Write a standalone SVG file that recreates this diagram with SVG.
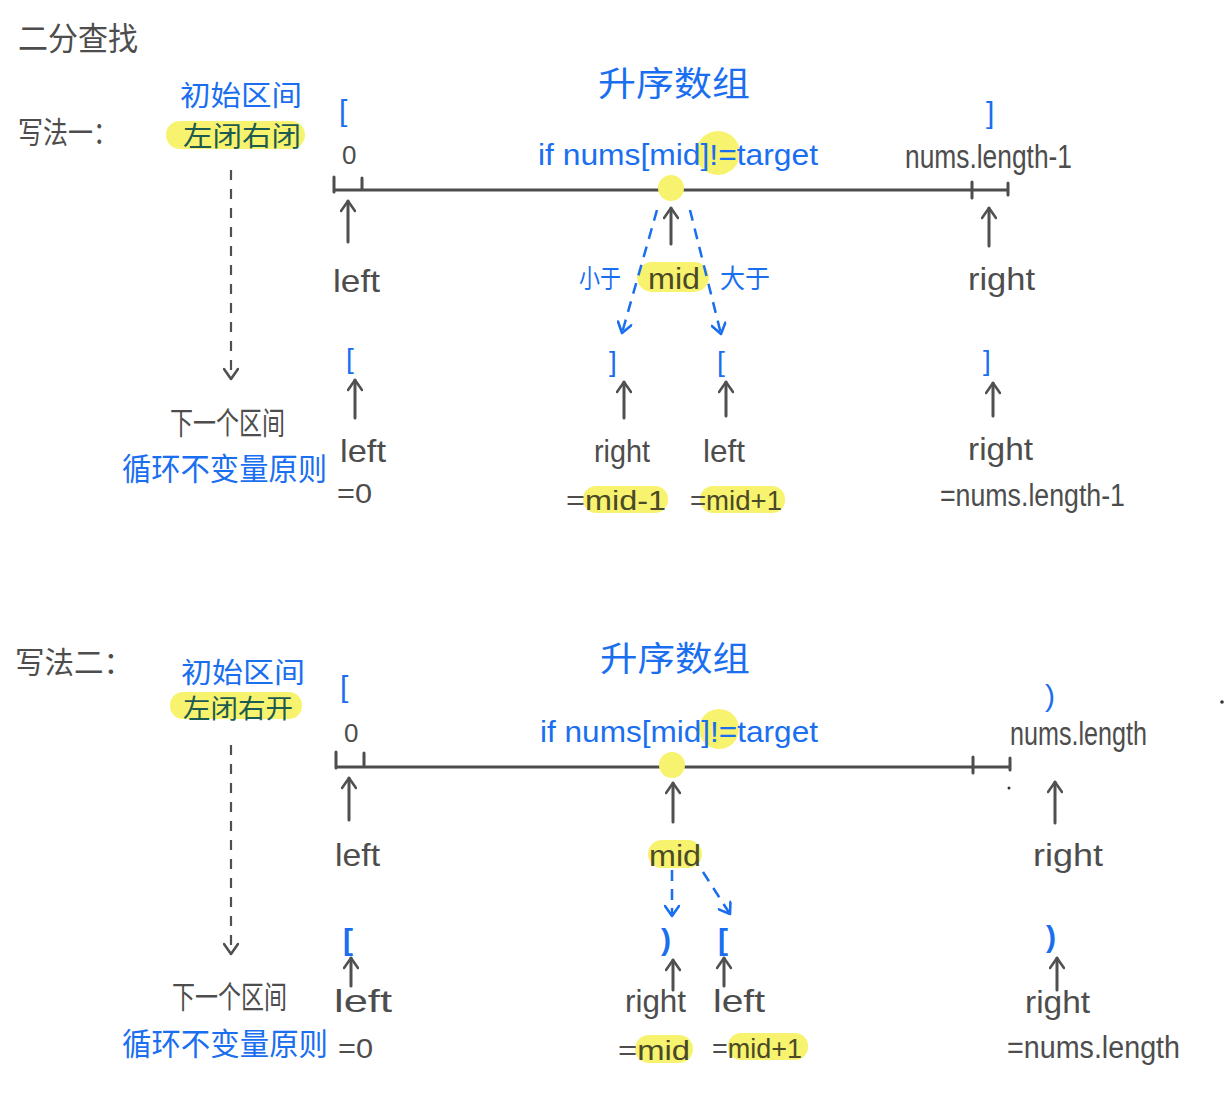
<svg xmlns="http://www.w3.org/2000/svg" width="1232" height="1112" viewBox="0 0 1232 1112">
  <style>
    .ink { font-family: "Liberation Sans", "Noto Sans CJK SC", sans-serif; fill: #4d4d4d; }
    .cjk { font-family: "Noto Sans CJK SC", "Liberation Sans", sans-serif; fill: #4d4d4d; }
    .blue { fill: #1a6ef0; }
    .teal { fill: #1d5a50; }
    .olive { fill: #4a4a28; }
    .hl { fill: #f8f36e; }
    .axis { stroke: #4d4d4d; stroke-width: 3; fill: none; stroke-linecap: round; }
    .up { stroke: #505050; stroke-width: 3; fill: none; stroke-linecap: round; marker-end: url(#ah); }
    .dash { stroke: #505050; stroke-width: 2.2; fill: none; stroke-dasharray: 10 9; marker-end: url(#ah); }
    .bdash { stroke: #1a6ef0; stroke-width: 2.5; fill: none; stroke-dasharray: 11 8; marker-end: url(#bh); }
  </style>
  <defs>
    <marker id="ah" viewBox="0 0 14 16" refX="12" refY="8" markerWidth="14" markerHeight="16" markerUnits="userSpaceOnUse" orient="auto">
      <path d="M2,1 L12,8 L2,15" fill="none" stroke="#505050" stroke-width="2.6" stroke-linecap="round" stroke-linejoin="round"/>
    </marker>
    <marker id="bh" viewBox="0 0 14 16" refX="12" refY="8" markerWidth="14" markerHeight="16" markerUnits="userSpaceOnUse" orient="auto">
      <path d="M2,1 L12,8 L2,15" fill="none" stroke="#1a6ef0" stroke-width="2.6" stroke-linecap="round" stroke-linejoin="round"/>
    </marker>
  </defs>
  <rect width="1232" height="1112" fill="#ffffff"/>

  <!-- heading -->
  <g id="title">
    <text class="cjk" x="18" y="50" font-size="32" textLength="120" lengthAdjust="spacingAndGlyphs">二分查找</text>
  </g>

  <!-- ===== method one: closed interval [left, right] ===== -->
  <g id="m1-label">
    <text class="cjk" x="18" y="143" font-size="30" textLength="100" lengthAdjust="spacingAndGlyphs">写法一：</text>
  </g>
  <g id="m1-interval">
    <text class="cjk blue" x="180" y="106" font-size="28" textLength="122" lengthAdjust="spacingAndGlyphs">初始区间</text>
    <rect class="hl" x="166" y="121" width="139" height="28" rx="14"/>
    <text class="cjk teal" x="183" y="146" font-size="27" textLength="118" lengthAdjust="spacingAndGlyphs">左闭右闭</text>
  </g>
  <g id="m1-array">
    <text class="cjk blue" x="598" y="96" font-size="34" textLength="152" lengthAdjust="spacingAndGlyphs">升序数组</text>
    <circle class="hl" cx="718" cy="153" r="22"/>
    <text class="ink blue" x="538" y="165" font-size="30" textLength="280" lengthAdjust="spacingAndGlyphs">if nums[mid]!=target</text>
  </g>
  <g id="m1-axis">
    <path class="axis" d="M334,190 H1008 M334,177 V192 M362,178 V190 M972,182 V198 M1008,183 V195"/>
    <circle class="hl" cx="671" cy="188" r="13"/>
  </g>
  <g id="m1-start">
    <text class="ink blue" x="339" y="121" font-size="30">[</text>
    <text class="ink" x="342" y="164" font-size="26">0</text>
    <text class="ink" x="333" y="292" font-size="32" textLength="47" lengthAdjust="spacingAndGlyphs">left</text>
  </g>
  <g id="m1-end">
    <text class="ink blue" x="986" y="123" font-size="30">]</text>
    <text class="ink" x="905" y="168" font-size="33" textLength="167" lengthAdjust="spacingAndGlyphs">nums.length-1</text>
    <text class="ink" x="968" y="290" font-size="32" textLength="67" lengthAdjust="spacingAndGlyphs">right</text>
  </g>
  <g id="m1-mid">
    <text class="cjk blue" x="579" y="288" font-size="26" textLength="42" lengthAdjust="spacingAndGlyphs">小于</text>
    <rect class="hl" x="637" y="262" width="72" height="30" rx="15"/>
    <text class="ink olive" x="648" y="289" font-size="30" textLength="52" lengthAdjust="spacingAndGlyphs">mid</text>
    <text class="cjk blue" x="720" y="288" font-size="26" textLength="50" lengthAdjust="spacingAndGlyphs">大于</text>
  </g>
  <g id="m1-next-label">
    <text class="cjk" x="170" y="434" font-size="31" textLength="115" lengthAdjust="spacingAndGlyphs">下一个区间</text>
    <text class="cjk blue" x="122" y="480" font-size="31" textLength="205" lengthAdjust="spacingAndGlyphs">循环不变量原则</text>
  </g>
  <g id="m1-next-left">
    <text class="ink blue" x="346" y="368" font-size="28">[</text>
    <text class="ink" x="340" y="462" font-size="32" textLength="46" lengthAdjust="spacingAndGlyphs">left</text>
    <text class="ink" x="337" y="503" font-size="28" textLength="35" lengthAdjust="spacingAndGlyphs">=0</text>
  </g>
  <g id="m1-next-right-small">
    <text class="ink blue" x="609" y="371" font-size="28">]</text>
    <text class="ink" x="594" y="462" font-size="32" textLength="56" lengthAdjust="spacingAndGlyphs">right</text>
    <rect class="hl" x="583" y="486" width="85" height="27" rx="13"/>
    <text class="ink" x="566" y="510" font-size="28" textLength="100" lengthAdjust="spacingAndGlyphs">=<tspan class="olive">mid-1</tspan></text>
  </g>
  <g id="m1-next-left-big">
    <text class="ink blue" x="717" y="371" font-size="28">[</text>
    <text class="ink" x="703" y="462" font-size="32" textLength="42" lengthAdjust="spacingAndGlyphs">left</text>
    <rect class="hl" x="700" y="486" width="85" height="27" rx="13"/>
    <text class="ink" x="690" y="510" font-size="28" textLength="92" lengthAdjust="spacingAndGlyphs">=<tspan class="olive">mid+1</tspan></text>
  </g>
  <g id="m1-next-right">
    <text class="ink blue" x="983" y="370" font-size="28">]</text>
    <text class="ink" x="968" y="460" font-size="32" textLength="65" lengthAdjust="spacingAndGlyphs">right</text>
    <text class="ink" x="940" y="506" font-size="31" textLength="185" lengthAdjust="spacingAndGlyphs">=nums.length-1</text>
  </g>

  <!-- ===== method two: half-open interval [left, right) ===== -->
  <g id="m2-label">
    <text class="cjk" x="15" y="673" font-size="30" textLength="118" lengthAdjust="spacingAndGlyphs">写法二：</text>
  </g>
  <g id="m2-interval">
    <text class="cjk blue" x="181" y="683" font-size="28" textLength="124" lengthAdjust="spacingAndGlyphs">初始区间</text>
    <rect class="hl" x="170" y="692" width="132" height="27" rx="13"/>
    <text class="cjk teal" x="183" y="718" font-size="26" textLength="110" lengthAdjust="spacingAndGlyphs">左闭右开</text>
  </g>
  <g id="m2-array">
    <text class="cjk blue" x="600" y="671" font-size="34" textLength="150" lengthAdjust="spacingAndGlyphs">升序数组</text>
    <circle class="hl" cx="719" cy="729" r="20"/>
    <text class="ink blue" x="540" y="742" font-size="30" textLength="278" lengthAdjust="spacingAndGlyphs">if nums[mid]!=target</text>
  </g>
  <g id="m2-axis">
    <path class="axis" d="M336,767 H1010 M336,752 V768 M364,753 V765 M973,757 V773 M1010,758 V770"/>
    <circle class="hl" cx="672" cy="765" r="13"/>
    <circle cx="1009" cy="788" r="1.5" fill="#333"/>
    <circle cx="1222" cy="702" r="1.8" fill="#333"/>
  </g>
  <g id="m2-start">
    <text class="ink blue" x="340" y="697" font-size="30">[</text>
    <text class="ink" x="344" y="742" font-size="26">0</text>
    <text class="ink" x="335" y="866" font-size="32" textLength="45" lengthAdjust="spacingAndGlyphs">left</text>
  </g>
  <g id="m2-end">
    <text class="ink blue" x="1045" y="706" font-size="30">)</text>
    <text class="ink" x="1010" y="745" font-size="33" textLength="137" lengthAdjust="spacingAndGlyphs">nums.length</text>
    <text class="ink" x="1033" y="866" font-size="32" textLength="70" lengthAdjust="spacingAndGlyphs">right</text>
  </g>
  <g id="m2-mid">
    <rect class="hl" x="648" y="840" width="54" height="28" rx="14"/>
    <text class="ink olive" x="649" y="866" font-size="30" textLength="52" lengthAdjust="spacingAndGlyphs">mid</text>
  </g>
  <g id="m2-next-label">
    <text class="cjk" x="172" y="1008" font-size="31" textLength="115" lengthAdjust="spacingAndGlyphs">下一个区间</text>
    <text class="cjk blue" x="122" y="1055" font-size="31" textLength="206" lengthAdjust="spacingAndGlyphs">循环不变量原则</text>
  </g>
  <g id="m2-next-left">
    <text class="ink blue" x="343" y="950" font-size="30" font-weight="bold">[</text>
    <text class="ink" x="334" y="1012" font-size="32" textLength="58" lengthAdjust="spacingAndGlyphs">left</text>
    <text class="ink" x="338" y="1058" font-size="28" textLength="35" lengthAdjust="spacingAndGlyphs">=0</text>
  </g>
  <g id="m2-next-right-small">
    <text class="ink blue" x="661" y="950" font-size="30" font-weight="bold">)</text>
    <text class="ink" x="625" y="1012" font-size="32" textLength="61" lengthAdjust="spacingAndGlyphs">right</text>
    <rect class="hl" x="635" y="1035" width="58" height="28" rx="14"/>
    <text class="ink" x="618" y="1060" font-size="28" textLength="72" lengthAdjust="spacingAndGlyphs">=<tspan class="olive">mid</tspan></text>
  </g>
  <g id="m2-next-left-big">
    <text class="ink blue" x="718" y="950" font-size="30" font-weight="bold">[</text>
    <text class="ink" x="713" y="1012" font-size="32" textLength="52" lengthAdjust="spacingAndGlyphs">left</text>
    <rect class="hl" x="728" y="1033" width="80" height="27" rx="13"/>
    <text class="ink" x="712" y="1058" font-size="28" textLength="90" lengthAdjust="spacingAndGlyphs">=<tspan class="olive">mid+1</tspan></text>
  </g>
  <g id="m2-next-right">
    <text class="ink blue" x="1046" y="947" font-size="30" font-weight="bold">)</text>
    <text class="ink" x="1025" y="1013" font-size="32" textLength="65" lengthAdjust="spacingAndGlyphs">right</text>
    <text class="ink" x="1007" y="1058" font-size="31" textLength="173" lengthAdjust="spacingAndGlyphs">=nums.length</text>
  </g>

  <!-- connectors -->
  <g id="connectors">
    <!-- method one -->
    <path class="up" d="M348,242 V201"/>
    <path class="up" d="M671,244 V208"/>
    <path class="up" d="M989,246 V208"/>
    <path class="dash" d="M231,170 V379"/>
    <path class="bdash" d="M657,210 L622,333"/>
    <path class="bdash" d="M690,210 L721,334"/>
    <path class="up" d="M355,418 V380"/>
    <path class="up" d="M624,418 V382"/>
    <path class="up" d="M726,416 V382"/>
    <path class="up" d="M993,416 V383"/>
    <!-- method two -->
    <path class="up" d="M349,820 V778"/>
    <path class="up" d="M673,822 V783"/>
    <path class="up" d="M1055,823 V782"/>
    <path class="dash" d="M231,745 V954"/>
    <path class="bdash" d="M672,870 V916"/>
    <path class="bdash" d="M703,872 L730,914"/>
    <path class="up" d="M351,986 V958"/>
    <path class="up" d="M673,990 V960"/>
    <path class="up" d="M724,986 V958"/>
    <path class="up" d="M1057,990 V958"/>
  </g>
</svg>
